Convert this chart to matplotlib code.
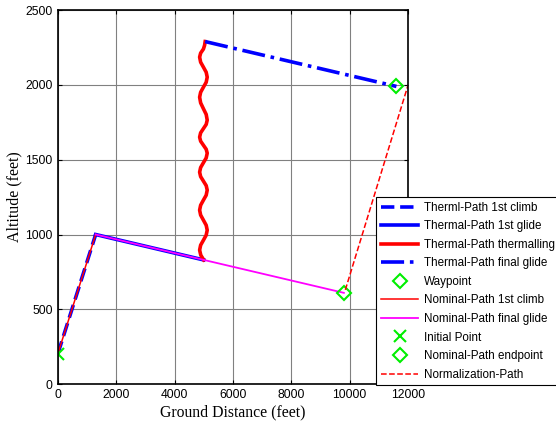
import matplotlib
matplotlib.use('Agg')
import matplotlib.pyplot as plt

# path data (feet)
climb_x = [0, 1300]
climb_y = [200, 1000]
glide_x = [1300, 5000]
glide_y = [1000, 830]
final_x = [5050, 11600]
final_y = [2290, 1990]
nominal_glide_x = [1300, 9800]
nominal_glide_y = [1000, 610]
norm_x = [9850, 12000]
norm_y = [630, 2000]
waypoint = (11600, 1990)
endpoint = (9800, 610)
initial = (0, 200)

# thermalling spiral
therm_x = [5000, 4900, 4860, 4895, 4990, 5085, 5120, 5085, 4990, 4895, 4860,
           4895, 4990, 5085, 5120, 5085, 4990, 4895, 4860, 4895, 4990, 5085,
           5120, 5085, 4990, 4895, 4860, 4895, 4990, 5085, 5120, 5085, 4990,
           4895, 4860, 4895, 4990, 5085, 5120, 5085, 4990, 4895, 4860, 4895,
           4990, 5030, 5050]
therm_y = [830, 862, 896, 929, 962, 996, 1029, 1062, 1096, 1130, 1163,
           1196, 1230, 1263, 1297, 1327, 1357, 1387, 1417, 1448, 1480, 1512,
           1544, 1570, 1597, 1624, 1651, 1680, 1708, 1736, 1765, 1803, 1841,
           1880, 1918, 1951, 1985, 2018, 2052, 2085, 2119, 2152, 2186, 2213,
           2240, 2265, 2290]

xticks = [0, 2000, 4000, 6000, 8000, 10000, 12000]
yticks = [0, 500, 1000, 1500, 2000, 2500]

plt.rcParams['font.family'] = 'Liberation Sans'

fig = plt.figure(figsize=(5.56, 4.23), dpi=100)
ax = fig.add_axes([0.1038, 0.092, 0.6302, 0.884])

ax.plot(climb_x, climb_y, '--', color='blue', lw=2.6, label='Therml-Path 1st climb')
ax.plot(glide_x, glide_y, '-', color='blue', lw=2.6, label='Thermal-Path 1st glide')
ax.plot(therm_x, therm_y, '-', color='red', lw=2.6, label='Thermal-Path thermalling')
ax.plot(final_x, final_y, '-.', color='blue', lw=2.6, label='Thermal-Path final glide')
ax.plot(*waypoint, 'D', color='#00ee00', mfc='none', mew=1.5, ms=7, label='Waypoint')
ax.plot(climb_x, climb_y, '-', color='red', lw=1.1, label='Nominal-Path 1st climb')
ax.plot(nominal_glide_x, nominal_glide_y, '-', color='magenta', lw=1.3,
        label='Nominal-Path final glide')
ax.plot(*initial, 'x', color='#00ee00', mew=1.5, ms=8, label='Initial Point')
ax.plot(*endpoint, 'D', color='#00ee00', mfc='none', mew=1.5, ms=7,
        label='Nominal-Path endpoint')
ax.plot(norm_x, norm_y, '--', color='red', lw=1.1, label='Normalization-Path')

ax.set_xlim(0, 12000)
ax.set_ylim(0, 2500)
ax.set_xticks(xticks)
ax.set_yticks(yticks)
ax.tick_params(direction='in', top=True, right=True, labelsize=8.7, length=3)
ax.grid(True, color='#808080', lw=0.8)
for s in ax.spines.values():
    s.set_linewidth(1.2)

ax.set_xlabel('Ground Distance (feet)', family='Liberation Serif', fontsize=11.3, labelpad=2.5)
ax.set_ylabel('Altitude (feet)', family='Liberation Serif', fontsize=11.5, labelpad=2)

leg = ax.legend(loc='upper left', bbox_to_anchor=(0.677, 0.534),
                bbox_transform=fig.transFigure, fontsize=8.4, fancybox=False,
                edgecolor='black', framealpha=1, borderaxespad=0,
                handlelength=3.2, labelspacing=0.56, borderpad=0.4,
                handletextpad=0.5)
leg.get_frame().set_linewidth(0.8)

fig.savefig('out.png', dpi=100)
